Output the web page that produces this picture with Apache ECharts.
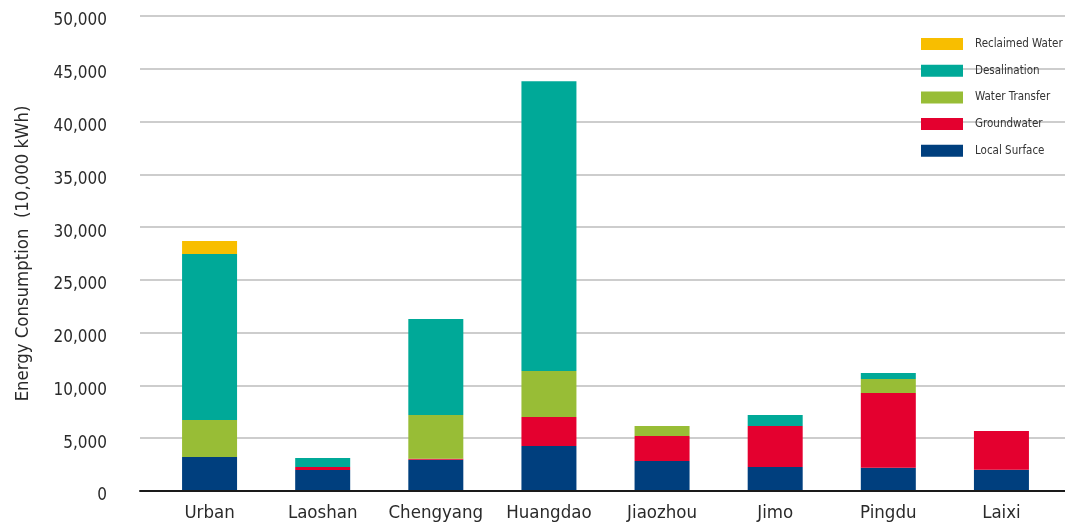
<!DOCTYPE html>
<html>
<head>
<meta charset="utf-8">
<script src="https://cdn.jsdelivr.net/npm/echarts@6/dist/echarts.min.js"></script>
<style>
  html, body { margin: 0; padding: 0; background: #ffffff; }
  #chart { width: 1065px; height: 525px; }
</style>
</head>
<body>
<div id="chart"></div>
<script>
// Districts along the horizontal axis
const districts = ['Urban', 'Laoshan', 'Chengyang', 'Huangdao', 'Jiaozhou', 'Jimo', 'Pingdu', 'Laixi'];

// Energy consumption by water source, in axis units (one gridline step = 5,000)
const localSurface   = [3220, 1990, 2965, 4260, 2840, 2275, 2205, 2020];
const groundwater    = [0,     285,   95, 2745, 2370, 3885, 7075, 3665];
const waterTransfer  = [3505,    0, 4140, 4355,  950,    0, 1325,    0];
const desalination   = [15720, 850, 9090, 27460,   0, 1040,  570,    0];
const reclaimedWater = [1230,    0,    0,    0,    0,    0,    0,    0];

// Printed labels of the value axis, one per gridline from the bottom up
const tickLabels = ['0', '5,000', '10,000', '20,000', '25,000', '30,000', '35,000', '40,000', '45,000', '50,000'];

const FONT = '"Liberation Sans Narrow", "DejaVu Sans Condensed", sans-serif';
const TICK_STEP = 5000;

const chart = echarts.init(document.getElementById('chart'), null, { renderer: 'canvas' });

const sources = [
  { name: 'Local Surface',   data: localSurface,   color: '#003f7e' },
  { name: 'Groundwater',     data: groundwater,    color: '#e4002f' },
  { name: 'Water Transfer',  data: waterTransfer,  color: '#98bd36' },
  { name: 'Desalination',    data: desalination,   color: '#00a998' },
  { name: 'Reclaimed Water', data: reclaimedWater, color: '#f8be00' }
];

chart.setOption({
  animation: false,
  backgroundColor: '#ffffff',
  grid: [
    // full-width frame carrying gridlines, value labels and the baseline
    { left: 140, right: 0, top: 16, bottom: 34, containLabel: false },
    // category band holding the stacked bars
    { left: 153, right: 7, top: 16, bottom: 34, containLabel: false }
  ],
  legend: {
    orient: 'vertical',
    left: 916,
    top: 33,
    itemWidth: 42,
    itemHeight: 12,
    itemGap: 14.7,
    icon: 'rect',
    data: ['Reclaimed Water', 'Desalination', 'Water Transfer', 'Groundwater', 'Local Surface'],
    textStyle: { fontFamily: FONT, fontSize: 11.5, color: '#333333', padding: [0, 0, 0, 7] }
  },
  xAxis: [
    {
      gridIndex: 0, type: 'value', min: 0, max: 1, z: 10,
      axisLine: { show: true, onZero: false, lineStyle: { color: '#1a1a1a', width: 2 } },
      axisTick: { show: false }, axisLabel: { show: false }, splitLine: { show: false }
    },
    {
      gridIndex: 1, type: 'category', data: districts,
      axisLine: { show: false }, axisTick: { show: false },
      axisLabel: { interval: 0, fontFamily: FONT, fontSize: 18.5, color: '#2a2a2a', margin: 13 }
    }
  ],
  yAxis: [
    {
      gridIndex: 0, type: 'value', min: 0, max: 45000, interval: TICK_STEP,
      name: 'Energy Consumption  (10,000 kWh)',
      nameLocation: 'middle', nameGap: 108, nameRotate: 90,
      nameTextStyle: { fontFamily: FONT, fontSize: 18.4, color: '#2a2a2a' },
      axisLine: { show: false }, axisTick: { show: false },
      axisLabel: {
        margin: 33,
        formatter: v => '{t|' + tickLabels[Math.round(v / TICK_STEP)] + '}',
        rich: {
          t: { fontFamily: FONT, fontSize: 17, color: '#2a2a2a', padding: [10, 0, 0, 0] }
        }
      },
      splitLine: { show: true, lineStyle: { color: '#bdbdbd', width: 1.5 } }
    },
    {
      gridIndex: 1, type: 'value', min: 0, max: 45000, show: false,
      splitLine: { show: false }
    }
  ],
  series: sources.map(s => ({
    name: s.name,
    type: 'bar',
    stack: 'total',
    xAxisIndex: 1,
    yAxisIndex: 1,
    barWidth: 55,
    data: s.data,
    itemStyle: { color: s.color },
    emphasis: { disabled: true }
  }))
});
</script>
</body>
</html>
